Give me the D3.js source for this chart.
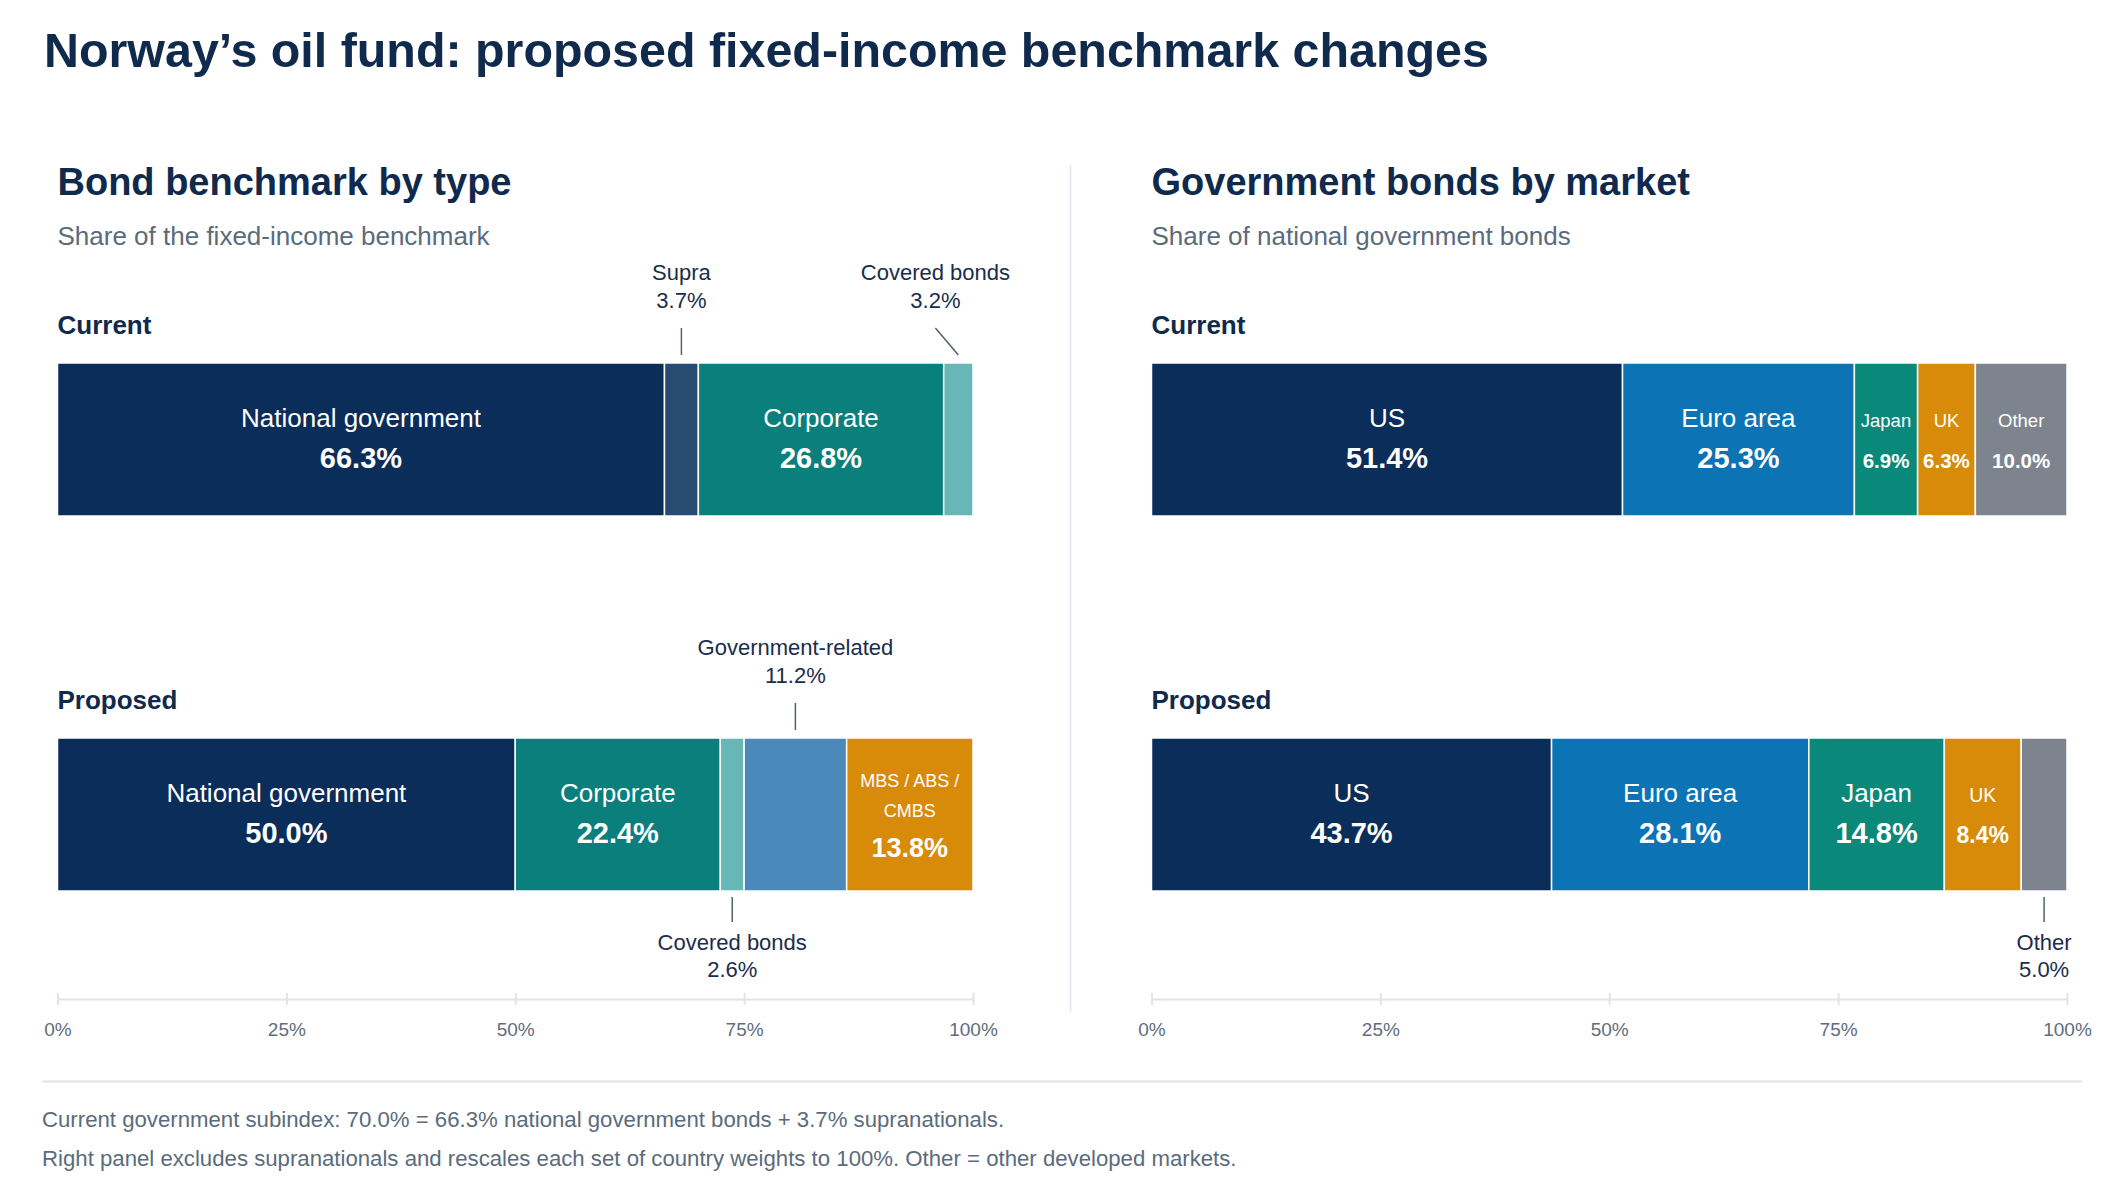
<!DOCTYPE html>
<html>
<head>
<meta charset="utf-8">
<script src="https://cdn.jsdelivr.net/npm/d3@7/dist/d3.min.js"></script>
<style>
  html, body { margin: 0; padding: 0; background: #ffffff; }
  svg { display: block; font-family: "Liberation Sans", Arial, Helvetica, sans-serif; }
</style>
</head>
<body>
<svg id="chart" width="2128" height="1185"></svg>
<script>
// ---------------- DATA ----------------
const rows = ["Current", "Proposed"];
const tickValues = [0, 25, 50, 75, 100];

const typeCategories = ["National government", "Supra", "Corporate", "Covered bonds", "Government-related", "MBS / ABS / CMBS"];
const typeCurrent   = [66.3, 3.7, 26.8, 3.2, 0, 0];
const typeProposed  = [50.0, 0, 22.4, 2.6, 11.2, 13.8];

const marketCategories = ["US", "Euro area", "Japan", "UK", "Other"];
const marketCurrent    = [51.4, 25.3, 6.9, 6.3, 10.0];
const marketProposed   = [43.7, 28.1, 14.8, 8.4, 5.0];

const footnotes = [
  "Current government subindex: 70.0% = 66.3% national government bonds + 3.7% supranationals.",
  "Right panel excludes supranationals and rescales each set of country weights to 100%. Other = other developed markets."
];

// ---------------- STYLES ----------------
const typeColors = {
  "National government": "#0b2d59",
  "Supra": "#284b72",
  "Corporate": "#0a7f7c",
  "Covered bonds": "#67b7b6",
  "Government-related": "#4a89ba",
  "MBS / ABS / CMBS": "#d88a09"
};
const marketColors = {
  "US": "#0b2d59",
  "Euro area": "#0c73b4",
  "Japan": "#0a887a",
  "UK": "#d88a09",
  "Other": "#7d848d"
};
// how each segment is labelled (default: "large" inside label)
const labelMode = {
  "type|Current|Supra": "above",
  "type|Current|Covered bonds": "above",
  "type|Proposed|Covered bonds": "below",
  "type|Proposed|Government-related": "above",
  "type|Proposed|MBS / ABS / CMBS": "wrap",
  "market|Current|Japan": "small",
  "market|Current|UK": "small",
  "market|Current|Other": "small",
  "market|Proposed|UK": "medium",
  "market|Proposed|Other": "below"
};
const insideSizes = {
  large:  { label: 26,   value: 29 },
  medium: { label: 19.5, value: 23 },
  small:  { label: 18.5, value: 20.5 }
};

const C = {
  title: "#0f2a4c",
  sub: "#5b6b7c",
  callout: "#1b2d4a",
  leader: "#52606f",
  tick: "#5f6d7c",
  rule: "#dfe4ea"
};

const svg = d3.select("#chart");

// ---------------- TITLE ----------------
svg.append("text").attr("x", 44).attr("y", 67)
  .attr("font-size", 48.4).attr("font-weight", 700).attr("fill", C.title)
  .text("Norway\u2019s oil fund: proposed fixed-income benchmark changes");

// vertical divider
svg.append("line").attr("x1", 1070.5).attr("x2", 1070.5).attr("y1", 165).attr("y2", 1012)
  .attr("stroke", "#e1e6ec").attr("stroke-width", 1.5);

// bottom separator
svg.append("line").attr("x1", 42).attr("x2", 2082).attr("y1", 1081.5).attr("y2", 1081.5)
  .attr("stroke", C.rule).attr("stroke-width", 2);

svg.selectAll("text.foot").data(footnotes).join("text")
  .attr("class", "foot")
  .attr("x", 42).attr("y", (d, i) => 1127 + i * 38.5)
  .attr("font-size", 22.2).attr("fill", C.sub)
  .text(d => d);

// ---------------- PANELS ----------------
const y = d3.scaleBand().domain(rows).range([363, 891]).paddingInner(0.592).paddingOuter(0);

function panel(cfg) {
  const x = d3.scaleLinear().domain([0, 100]).range(cfg.range);
  const g = svg.append("g");

  g.append("text").attr("x", cfg.range[0]).attr("y", 195)
    .attr("font-size", 38).attr("font-weight", 700).attr("fill", C.title).text(cfg.title);
  g.append("text").attr("x", cfg.range[0]).attr("y", 244.5)
    .attr("font-size", 26).attr("fill", C.sub).text(cfg.subtitle);

  const series = { "Current": cfg.current, "Proposed": cfg.proposed };

  rows.forEach(row => {
    const top = y(row), bw = y.bandwidth(), bot = top + bw, cy = top + bw / 2;
    g.append("text").attr("x", cfg.range[0]).attr("y", top - 29.5)
      .attr("font-size", 26).attr("font-weight", 700).attr("fill", C.title).text(row);

    // stack (each row rescaled so its shares fill 0-100%)
    const total = d3.sum(series[row]);
    let acc = 0;
    const segs = [];
    cfg.categories.forEach((cat, i) => {
      const v = series[row][i];
      if (!v) return;
      const share = v / total * 100;
      segs.push({ cat, v, x0: acc, x1: acc + share });
      acc += share;
    });

    const rg = g.append("g");
    rg.selectAll("rect").data(segs).join("rect")
      .attr("x", d => x(d.x0)).attr("y", top)
      .attr("width", d => x(d.x1) - x(d.x0)).attr("height", bw)
      .attr("fill", d => cfg.colors[d.cat])
      .attr("stroke", "#ffffff").attr("stroke-width", 1.5);

    segs.forEach(d => {
      const mode = labelMode[cfg.key + "|" + row + "|" + d.cat] || "large";
      const cx = (x(d.x0) + x(d.x1)) / 2;
      const valTxt = d.v.toFixed(1) + "%";
      if (insideSizes[mode]) {
        const s = insideSizes[mode];
        rg.append("text").attr("x", cx).attr("y", cy - 12.5).attr("text-anchor", "middle")
          .attr("font-size", s.label).attr("fill", "#ffffff").text(d.cat);
        rg.append("text").attr("x", cx).attr("y", cy + 28).attr("text-anchor", "middle")
          .attr("font-size", s.value).attr("font-weight", 700).attr("fill", "#ffffff").text(valTxt);
      } else if (mode === "wrap") {
        const parts = d.cat.split(" ");
        const lines = [parts.slice(0, -1).join(" "), parts[parts.length - 1]];
        lines.forEach((ln, k) => {
          rg.append("text").attr("x", cx).attr("y", cy - 28 + k * 30).attr("text-anchor", "middle")
            .attr("font-size", 18).attr("fill", "#ffffff").text(ln);
        });
        rg.append("text").attr("x", cx).attr("y", cy + 42.5).attr("text-anchor", "middle")
          .attr("font-size", 27).attr("font-weight", 700).attr("fill", "#ffffff").text(valTxt);
      } else {
        // callout above or below
        const above = mode === "above";
        const lab = rg.append("text").attr("text-anchor", "middle").attr("font-size", 22)
          .attr("fill", C.callout).text(d.cat);
        const val = rg.append("text").attr("text-anchor", "middle").attr("font-size", 22)
          .attr("fill", C.callout).text(valTxt);
        const w = Math.max(lab.node().getComputedTextLength(), val.node().getComputedTextLength());
        const lx = Math.min(cx, cfg.range[1] + 37 - w / 2);
        lab.attr("x", lx); val.attr("x", lx);
        let ly1, ly2;
        if (above) {
          lab.attr("y", top - 83); val.attr("y", top - 55);
          ly1 = top - 35; ly2 = top - 8;
        } else {
          lab.attr("y", bot + 59); val.attr("y", bot + 86);
          ly1 = bot + 6; ly2 = bot + 31;
        }
        rg.append("line")
          .attr("x1", above ? lx : cx).attr("y1", ly1)
          .attr("x2", above ? cx : lx).attr("y2", ly2)
          .attr("stroke", C.leader).attr("stroke-width", 1.5);
      }
    });
  });

  // axis
  const axis = d3.axisBottom(x).tickValues(tickValues).tickFormat(d => d + "%")
    .tickSize(6).tickSizeOuter(0);
  const ag = g.append("g").attr("transform", "translate(0,999)").call(axis);
  ag.select(".domain").attr("stroke", C.rule).attr("stroke-width", 2);
  ag.selectAll(".tick line").attr("y1", -6).attr("y2", 6).attr("stroke", C.rule).attr("stroke-width", 2);
  ag.selectAll(".tick text").attr("y", 37).attr("dy", 0)
    .attr("font-size", 19).attr("fill", C.tick)
    .attr("font-family", "\"Liberation Sans\", Arial, Helvetica, sans-serif");
}

panel({
  key: "type",
  title: "Bond benchmark by type",
  subtitle: "Share of the fixed-income benchmark",
  categories: typeCategories,
  current: typeCurrent,
  proposed: typeProposed,
  colors: typeColors,
  range: [57.5, 973]
});

panel({
  key: "market",
  title: "Government bonds by market",
  subtitle: "Share of national government bonds",
  categories: marketCategories,
  current: marketCurrent,
  proposed: marketProposed,
  colors: marketColors,
  range: [1151.5, 2067]
});
</script>
</body>
</html>
